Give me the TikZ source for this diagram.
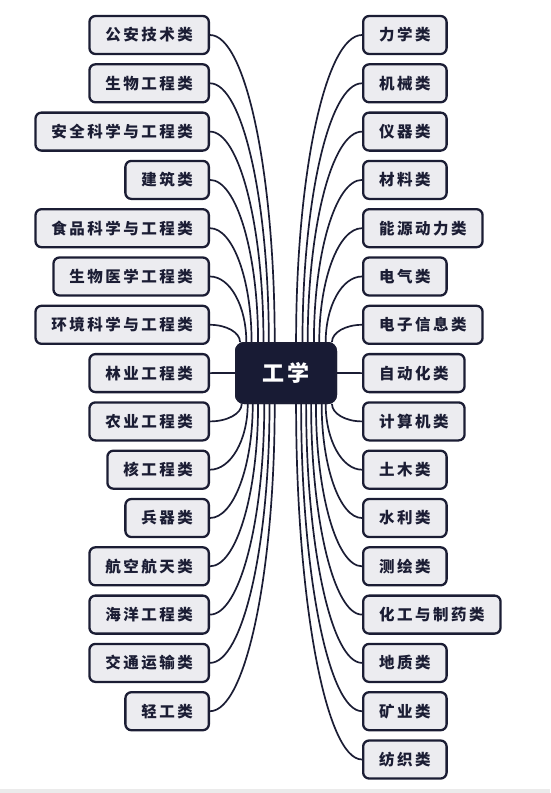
\documentclass[tikz,border=0pt]{standalone}
\usepackage{fontspec}
\usepackage{tikz}
\usetikzlibrary{positioning,calc}
\newfontfamily\cjk[LetterSpace=16]{Noto Sans CJK SC}
\definecolor{ink}{RGB}{27,29,52}
\definecolor{paper}{RGB}{236,236,240}
\definecolor{rootfill}{RGB}{24,27,52}

\begin{document}
\begin{tikzpicture}[x=1pt, y=1pt, node distance=8pt, thick]
  \tikzstyle{leaf} = [rectangle, rounded corners=6pt, draw=ink, line width=2.3pt, fill=paper, text=ink, minimum height=38pt, inner xsep=16pt, font=\cjk\bfseries\fontsize{15.5pt}{18pt}\selectfont]
  \tikzstyle{lleaf} = [leaf, anchor=east]
  \tikzstyle{rleaf} = [leaf, anchor=west]
  \tikzstyle{hub} = [rectangle, rounded corners=8pt, draw=ink, line width=2pt, fill=rootfill, text=white, minimum width=100pt, minimum height=60pt, font=\cjk\bfseries\fontsize{22pt}{26pt}\selectfont]
  \tikzstyle{link} = [draw=ink, line width=1.7pt]
  \tikzset{twig/.style={to path={.. controls ($(\tikztostart)!0.55!(\tikztotarget|-\tikztostart)$) and ($(\tikztotarget)!0.55!(\tikztotarget|-\tikztostart)$) .. (\tikztotarget)}}}

  \useasboundingbox (0,0) rectangle (550,-793);
  \fill[black!8] (0,-789) rectangle (550,-793);

  \node[hub] (root) at (286,-373) {工学};

  % left column
  \node[lleaf] (l0) at (210,-35) {公安技术类};
  \node[lleaf, below=of l0.south east, anchor=north east] (l1) {生物工程类};
  \node[lleaf, below=of l1.south east, anchor=north east] (l2) {安全科学与工程类};
  \node[lleaf, below=of l2.south east, anchor=north east] (l3) {建筑类};
  \node[lleaf, below=of l3.south east, anchor=north east] (l4) {食品科学与工程类};
  \node[lleaf, below=of l4.south east, anchor=north east] (l5) {生物医学工程类};
  \node[lleaf, below=of l5.south east, anchor=north east] (l6) {环境科学与工程类};
  \node[lleaf, below=of l6.south east, anchor=north east] (l7) {林业工程类};
  \node[lleaf, below=of l7.south east, anchor=north east] (l8) {农业工程类};
  \node[lleaf, below=of l8.south east, anchor=north east] (l9) {核工程类};
  \node[lleaf, below=of l9.south east, anchor=north east] (l10) {兵器类};
  \node[lleaf, below=of l10.south east, anchor=north east] (l11) {航空航天类};
  \node[lleaf, below=of l11.south east, anchor=north east] (l12) {海洋工程类};
  \node[lleaf, below=of l12.south east, anchor=north east] (l13) {交通运输类};
  \node[lleaf, below=of l13.south east, anchor=north east] (l14) {轻工类};

  % right column
  \node[rleaf] (r0) at (362,-35) {力学类};
  \node[rleaf, below=of r0.south west, anchor=north west] (r1) {机械类};
  \node[rleaf, below=of r1.south west, anchor=north west] (r2) {仪器类};
  \node[rleaf, below=of r2.south west, anchor=north west] (r3) {材料类};
  \node[rleaf, below=of r3.south west, anchor=north west] (r4) {能源动力类};
  \node[rleaf, below=of r4.south west, anchor=north west] (r5) {电气类};
  \node[rleaf, below=of r5.south west, anchor=north west] (r6) {电子信息类};
  \node[rleaf, below=of r6.south west, anchor=north west] (r7) {自动化类};
  \node[rleaf, below=of r7.south west, anchor=north west] (r8) {计算机类};
  \node[rleaf, below=of r8.south west, anchor=north west] (r9) {土木类};
  \node[rleaf, below=of r9.south west, anchor=north west] (r10) {水利类};
  \node[rleaf, below=of r10.south west, anchor=north west] (r11) {测绘类};
  \node[rleaf, below=of r11.south west, anchor=north west] (r12) {化工与制药类};
  \node[rleaf, below=of r12.south west, anchor=north west] (r13) {地质类};
  \node[rleaf, below=of r13.south west, anchor=north west] (r14) {矿业类};
  \node[rleaf, below=of r14.south west, anchor=north west] (r15) {纺织类};

  % left links
  \draw[link] (l0.east) to[twig] (root.110);
  \draw[link] (l1.east) to[twig] (root.119);
  \draw[link] (l2.east) to[twig] (root.126);
  \draw[link] (l3.east) to[twig] (root.132);
  \draw[link] (l4.east) to[twig] (root.138);
  \draw[link] (l5.east) to[twig] (root.142);
  \draw[link] (l6.east) to[twig] (root.146);
  \draw[link] (l7.east) -- (root.west);
  \draw[link] (l8.east) to[twig] (root.215);
  \draw[link] (l9.east) to[twig] (root.219);
  \draw[link] (l10.east) to[twig] (root.223);
  \draw[link] (l11.east) to[twig] (root.228);
  \draw[link] (l12.east) to[twig] (root.235);
  \draw[link] (l13.east) to[twig] (root.242);
  \draw[link] (l14.east) to[twig] (root.250);

  % right links
  \draw[link] (r0.west) to[twig] (root.72);
  \draw[link] (r1.west) to[twig] (root.62);
  \draw[link] (r2.west) to[twig] (root.55);
  \draw[link] (r3.west) to[twig] (root.48);
  \draw[link] (r4.west) to[twig] (root.43);
  \draw[link] (r5.west) to[twig] (root.38);
  \draw[link] (r6.west) to[twig] (root.34);
  \draw[link] (r7.west) -- (root.east);
  \draw[link] (r8.west) to[twig] (root.326);
  \draw[link] (r9.west) to[twig] (root.322);
  \draw[link] (r10.west) to[twig] (root.319);
  \draw[link] (r11.west) to[twig] (root.314);
  \draw[link] (r12.west) to[twig] (root.309);
  \draw[link] (r13.west) to[twig] (root.303);
  \draw[link] (r14.west) to[twig] (root.296);
  \draw[link] (r15.west) to[twig] (root.288);

  % hub on top of the links
  \node[hub] at (root) {工学};
\end{tikzpicture}
\end{document}
